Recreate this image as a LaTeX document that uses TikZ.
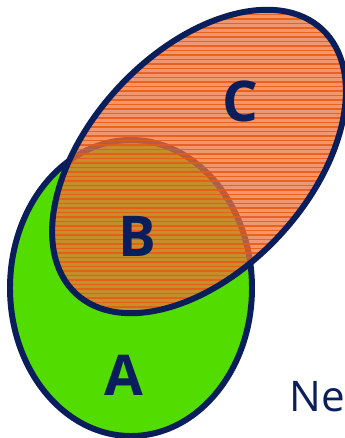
\documentclass[tikz,border=0pt]{standalone}
\usepackage{fontspec}
\setmainfont{Open Sans}
\usepackage{tikz}

\definecolor{navy}{RGB}{10,30,92}
\definecolor{agreen}{RGB}{82,220,0}
\definecolor{corange}{RGB}{236,115,60}
\definecolor{cstripe}{RGB}{232,90,18}

\tikzset{
	setline/.style={draw=navy, line width=3.4pt},
	setlabel/.style={text=navy, font=\fontsize{32pt}{32pt}\selectfont\bfseries},
}

\begin{document}
\begin{tikzpicture}[x=0.02cm, y=0.02cm]
	\def\ax{131}   % centre of A
	\def\ay{150}
	\def\cx{199}   % centre of C
	\def\cy{276.5}

\useasboundingbox (0,0) rectangle (344,438);

% set A
\fill[agreen] (\ax,\ay) ellipse [x radius=121, y radius=148];
\draw[setline] (\ax,\ay) ellipse [x radius=121, y radius=148];

% set C (see-through, striped)
\fill[corange, fill opacity=0.75] (\cx,\cy) ellipse [x radius=180.6, y radius=109.4, rotate=47];
\begin{scope}
\clip (\cx,\cy) ellipse [x radius=180.6, y radius=109.4, rotate=47];
\foreach \yy in {122,126.5,...,432}
	\draw[cstripe, opacity=0.85, line width=1.1pt] (0,\yy) -- (344,\yy);
\end{scope}
\draw[setline] (\cx,\cy) ellipse [x radius=180.6, y radius=109.4, rotate=47];

% labels
\node[setlabel] (labA) at (124,63) {A};
\node[setlabel] (labB) at (137,202) {B};
\node[setlabel] (labC) at (240,337) {C};

\node[text=navy, anchor=west, inner sep=0pt, font=\fontsize{24pt}{24pt}\selectfont] (new) at (289,41) {Ne};

\end{tikzpicture}
\end{document}
